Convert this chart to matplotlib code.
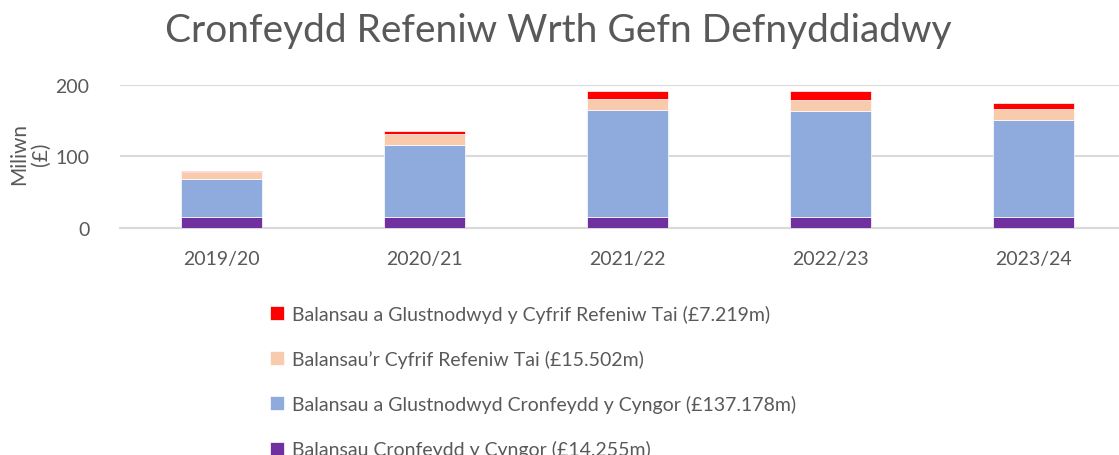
import numpy as np
import matplotlib
matplotlib.use("Agg")
import matplotlib.pyplot as plt

plt.rcParams['font.family'] = ['Lato', 'DejaVu Sans']

years = ["2019/20", "2020/21", "2021/22", "2022/23", "2023/24"]
council = [14.3, 14.3, 14.3, 14.3, 14.3]
council_reserves = [54.5, 102.2, 150.8, 149.9, 137.2]
hra = [9.0, 15.4, 15.8, 15.0, 15.5]
hra_reserves = [1.8, 4.2, 10.4, 12.6, 7.2]

labels = [
    "Balansau Cronfeydd y Cyngor (£14.255m)",
    "Balansau a Glustnodwyd Cronfeydd y Cyngor (£137.178m)",
    "Balansau\u2019r Cyfrif Refeniw Tai (£15.502m)",
    "Balansau a Glustnodwyd y Cyfrif Refeniw Tai (£7.219m)",
]
colors = ["#7030A0", "#8FAADC", "#F8CBAD", "#FF0000"]
grey = "#595959"

fig = plt.figure(figsize=(11.19, 4.56), dpi=100)
ax = fig.add_axes([120 / 1119, (456 - 228.7) / 456, 1015 / 1119, 142.7 / 456])

x = np.arange(len(years))
bottom = np.zeros(len(years))
handles = []
for vals, col, lab in zip([council, council_reserves, hra, hra_reserves], colors, labels):
    b = ax.bar(x, vals, 0.4, bottom=bottom, color=col, edgecolor="white",
               linewidth=0.5, label=lab, zorder=3)
    handles.append(b)
    bottom += np.array(vals)

ax.set_xlim(-0.5, 4.5)
ax.set_ylim(0, 200)
ax.set_yticks([0, 100, 200])
ax.set_xticks(x)
ax.set_xticklabels(years)
ax.tick_params(length=0, labelsize=14, labelcolor=grey)
ax.tick_params(axis="y", pad=22)
ax.tick_params(axis="x", pad=16)
ax.grid(axis="y", color="#d9d9d9", linewidth=1.5, zorder=0)
for s in ["top", "right", "left"]:
    ax.spines[s].set_visible(False)
ax.spines["bottom"].set_color("#d9d9d9")
ax.spines["bottom"].set_linewidth(1.5)

fig.text(30 / 1119, (456 - 154) / 456, "Miliwn\n(£)", rotation=90, ha="center",
         va="center", fontsize=15, color=grey, linespacing=1.1)
fig.text(558 / 1119, (456 - 31) / 456, "Cronfeydd Refeniw Wrth Gefn Defnyddiadwy",
         ha="center", va="center", fontsize=28, color=grey)

leg = fig.legend(handles[::-1], labels[::-1], loc="upper left",
                 bbox_to_anchor=(252 / 1119, (456 - 288) / 456), frameon=False,
                 fontsize=14, labelcolor=grey, handlelength=0.75, handleheight=0.75,
                 handletextpad=0.4, labelspacing=1.4)

fig.savefig("out.png", dpi=100)
